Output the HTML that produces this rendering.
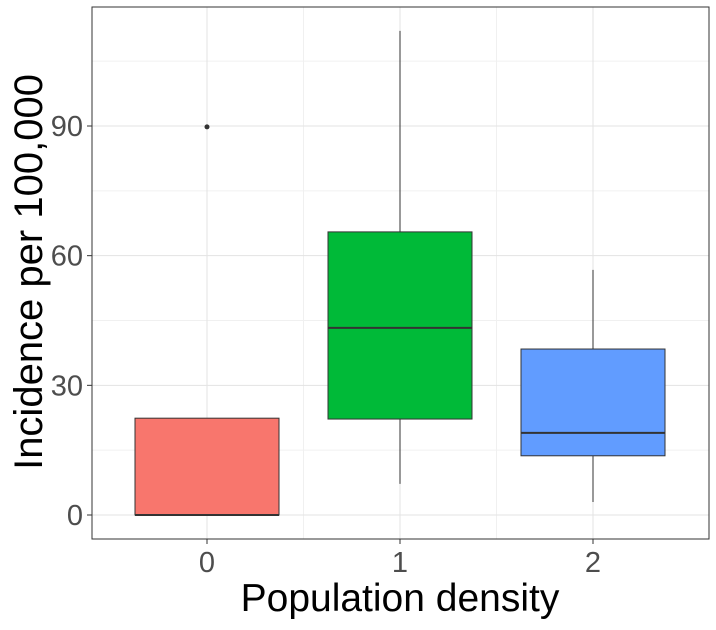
<!DOCTYPE html>
<html><head><meta charset="utf-8"><style>
body{margin:0;background:#fff;font-family:"Liberation Sans",sans-serif}
</style></head><body>
<svg id="chart" width="716" height="625" xmlns="http://www.w3.org/2000/svg"></svg>
<script>
const categories=["0","1","2"];
const q1s=[0,22.2,13.7];
const medians=[0,43.3,19.0];
const q3s=[22.4,65.5,38.4];
const whiskerLows=[0,7.2,3.0];
const whiskerHighs=[22.4,112,56.7];
const outlierCat=[0];
const outlierVal=[89.8];
const colors=["#F8766D","#00BA38","#619CFF"];
const yTicks=[0,30,60,90];
const yMinor=[15,45,75,105];

const svg=document.getElementById('chart');
const NS="http://www.w3.org/2000/svg";
const L=92,R=709,T=7,B=539;
const y=v=>515-v*(389/90);
const x=i=>207+i*193;
const bw=72;
function mk(tag,attrs,name){const e=document.createElementNS(NS,tag);for(const k in attrs)e.setAttribute(k,attrs[k]);


svg.appendChild(e);return e;}
mk('rect',{x:L,y:T,width:R-L,height:B-T,fill:'#fff'},'panel-background');
yMinor.forEach(v=>mk('line',{x1:L,x2:R,y1:y(v),y2:y(v),stroke:'#f0f0f0','stroke-width':1},'minor-gridline-y'));
[0.5,1.5].forEach(i=>mk('line',{x1:x(i),x2:x(i),y1:T,y2:B,stroke:'#f0f0f0','stroke-width':1},'minor-gridline-x'));
yTicks.forEach(v=>mk('line',{x1:L,x2:R,y1:y(v),y2:y(v),stroke:'#e3e3e3','stroke-width':1},'major-gridline-y'));
categories.forEach((c,i)=>mk('line',{x1:x(i),x2:x(i),y1:T,y2:B,stroke:'#e3e3e3','stroke-width':1},'major-gridline-x'));
categories.forEach((c,i)=>{
 mk('line',{x1:x(i),x2:x(i),y1:y(q3s[i]),y2:y(whiskerHighs[i]),stroke:'#333','stroke-width':1},'whisker-upper-'+c);
 mk('line',{x1:x(i),x2:x(i),y1:y(q1s[i]),y2:y(whiskerLows[i]),stroke:'#333','stroke-width':1},'whisker-lower-'+c);
 mk('rect',{x:x(i)-bw,y:y(q3s[i]),width:2*bw,height:y(q1s[i])-y(q3s[i]),fill:colors[i],stroke:'#333','stroke-width':1},'box-'+c);
 mk('line',{x1:x(i)-bw,x2:x(i)+bw,y1:y(medians[i]),y2:y(medians[i]),stroke:'#333','stroke-width':2},'median-'+c);
});
outlierVal.forEach((v,k)=>mk('circle',{cx:x(outlierCat[k]),cy:y(v),r:2.5,fill:'#333'},'outlier-point'));
mk('rect',{x:L,y:T,width:R-L,height:B-T,fill:'none',stroke:'#333','stroke-width':1},'panel-border');
yTicks.forEach(v=>{mk('line',{x1:L-5,x2:L,y1:y(v),y2:y(v),stroke:'#333'},'y-tick');
 const t=mk('text',{x:L-9,y:y(v)+10,'text-anchor':'end','font-size':29,fill:'#4d4d4d'},'y-tick-label');t.textContent=v;});
categories.forEach((c,i)=>{mk('line',{x1:x(i),x2:x(i),y1:B,y2:B+5,stroke:'#333'},'x-tick');
 const t=mk('text',{x:x(i),y:572,'text-anchor':'middle','font-size':29,fill:'#4d4d4d'},'x-tick-label');t.textContent=c;});
let t=mk('text',{x:400,y:611,'text-anchor':'middle','font-size':39,fill:'#000'},'x-axis-title');t.textContent='Population density';
t=mk('text',{x:0,y:0,'text-anchor':'middle','font-size':40,fill:'#000',transform:'translate(42,272) rotate(-90)'},'y-axis-title');t.textContent='Incidence per 100,000';
</script>
</body></html>
